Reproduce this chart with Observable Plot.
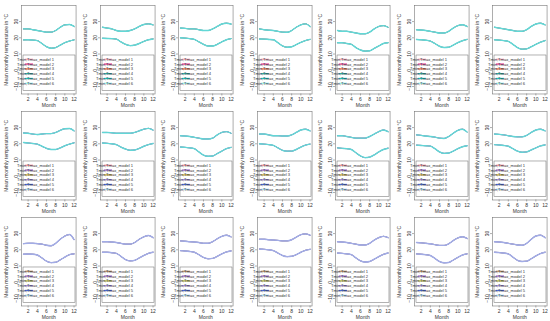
<!DOCTYPE html>
<html><head><meta charset="utf-8">
<script src="https://cdn.jsdelivr.net/npm/d3@7"></script>
<script src="https://cdn.jsdelivr.net/npm/@observablehq/plot@0.6"></script>
<style>
body{margin:0;background:#fff;}
#grid{display:grid;grid-template-columns:repeat(7,78.571px);grid-auto-rows:106px;width:550px;height:321px;overflow:hidden;}
#grid svg{overflow:visible;background:transparent;}
</style>
</head><body><div id="grid"></div>
<script>
const months = [1,2,3,4,5,6,7,8,9,10,11,12];
const models = ["Tmin,Tmax_model 1","Tmin,Tmax_model 2","Tmin,Tmax_model 3","Tmin,Tmax_model 4","Tmin,Tmax_model 5","Tmin,Tmax_model 6"];
const yTicks = [-10,0,10,20,30];
const xTicks = [2,4,6,8,10,12];

// monthly mean Tmax per panel (row-major, 3 rows x 7 columns)
const tmax = [
  [25.5,25.5,25,24.5,24,23.5,23.5,24.5,26.5,28,28.2,27],
  [26.5,26,25.5,24.5,24,24,24.5,25.5,27,28.2,28.6,28],
  [26,25.8,25.5,25.5,25,24.5,24.5,25.5,27,28.5,29,28.5],
  [25.5,25,24.7,24.5,24,23.5,23.4,24.5,26.5,28,28.6,27],
  [24.5,24,24,23.5,23,22.5,22.5,23.5,25.5,27,27.5,26.5],
  [25,24.8,24.5,24,23.5,23,23,24,26,27.5,28,27],
  [26.5,26,25.5,25,24.5,24,24,25,27,28.5,29,28],
  [26.7,26.5,26,25.7,26,26.3,26.3,27,28.3,29.3,29.4,28],
  [27,27,26.8,26.5,26.5,26.5,26.5,27,28,29,29.5,28.5],
  [25,24.8,24.5,24,23.5,23,23,23.5,25.5,27,27.5,26.5],
  [26,26,25.5,25,25,24.8,24.8,25.5,27,28.5,29,28],
  [25,25,24.5,24,23.5,23.5,23.5,24.5,26,27.5,28.5,27.5],
  [25.5,25.2,24.8,24.5,24.1,23.5,23.3,24.5,26.5,28.3,29,27.3],
  [26,25.8,25.5,25,24.5,24.3,24.3,25.2,27,28.5,29,28],
  [23.8,24,24,23.8,23.5,22.8,22.5,24,26.5,28.5,29.4,26.3],
  [25,25,24.8,24.5,24,23.5,23.5,24.5,26.5,28,28.8,27.5],
  [25.5,25.3,25,24.8,24.5,24,24,25,26.8,28.3,29,28],
  [26.5,26.5,26.2,26,25.8,25.5,25.5,26.2,27.8,29.3,29.8,29],
  [25,24.8,24.5,24,23.5,23,23,24,26,27.5,28.3,27.5],
  [24.5,24.3,24,23.7,23.2,22.7,22.7,23.7,25.7,27.3,28,27],
  [25,24.8,24.5,24,23.5,23,22.8,24,26.5,28.5,29,27.5]
];
// monthly mean Tmin per panel
const tmin = [
  [18.7,18.8,18.6,18.3,16.5,14.5,13.6,14,15.5,17,18,18.7],
  [19.7,19.6,19.5,19.2,17.5,16,15.2,15.5,16.5,17.8,18.8,19.3],
  [20,19.8,19.5,19,17.5,16,15,15,16,17.5,18.8,19.5],
  [19.3,19.2,19,18.8,17,15,14.2,14.5,15.8,17.2,18.3,19],
  [17,17,16.5,16,14,12.5,11.8,12,13.5,15,16.5,17],
  [19,18.8,18.5,18,16.5,14.8,14,14.2,15.5,17,18.2,19],
  [18.8,18.6,18.3,17.8,16,14,13,13.2,14.5,16,17.3,18.3],
  [20.8,20.5,20.2,19.8,18.5,17.2,16.5,16.5,17.5,18.8,19.8,20.6],
  [20.5,20.3,20,19.5,18,16.8,16,16.2,17.2,18.5,19.5,20.2],
  [18,17.8,17.5,17,15,13,12.3,12.5,14,15.5,17,17.8],
  [20,19.8,19.5,19,17.5,16,15.5,15.5,16.5,18,19.2,19.8],
  [17.5,17.2,17,16.5,14.5,12.5,11.5,11.8,13.2,15,16.5,17.3],
  [19.2,19,18.8,18.6,17,15,14.1,14.3,15.5,17,18.2,18.8],
  [19.5,19.3,19,18.5,17,15.5,14.8,15,16.2,17.5,18.7,19.3],
  [17.3,17.4,17.3,16.8,15,13,12.1,12.3,13.8,15.5,17,17.5],
  [18.5,18.5,18.2,17.8,16,14,13.2,13.5,15,16.5,17.8,18.5],
  [19.5,19.3,19,18.5,17,15.3,14.5,14.7,16,17.5,18.7,19.3],
  [20.5,20.3,20,19.5,18,16.5,15.8,16,17,18.5,19.7,20.3],
  [18,17.8,17.5,17,15,13.2,12.5,12.8,14.2,15.8,17.2,18],
  [17.5,17.3,17,16.5,14.7,12.8,12,12.2,13.7,15.3,16.8,17.5],
  [18.5,18.3,18,17.5,15.5,13.5,12.8,13,14.5,16.2,17.7,18.5]
];

// palettes (per row)
const legendColors = [
  ["#f6a5b5","#e6378c","#ee6840","#2aa7a3","#1fc6c6","#9eeeee"],
  ["#f0909c","#9a62c2","#c8a838","#a28cd6","#4c6cd6","#a8d6f0"],
  ["#b88c68","#9a62c2","#b4b444","#a28cd6","#4c6cd6","#a8d6f0"]
];
const lineColors = [
  ["#f6a5b5","#e6378c","#ee6840","#2aa7a3","#1fc6c6","#62d8d6"],
  ["#f0909c","#9a62c2","#c8a838","#a28cd6","#4c6cd6","#62d6d6"],
  ["#b88c68","#9a62c2","#b4b444","#a28cd6","#4c6cd6","#a2ace6"]
];

const W = 78.571, H = 106;
const grid = document.getElementById("grid");

for (let i = 0; i < 21; i++) {
  const row = Math.floor(i / 7);
  const rows = [];
  models.forEach((m, k) => {
    ["Tmax", "Tmin"].forEach(s => {
      months.forEach((mo, j) => {
        rows.push({model: m, idx: k, series: s, month: mo, temp: (s === "Tmax" ? tmax : tmin)[i][j]});
      });
    });
  });
  const plot = Plot.plot({
    width: W, height: H,
    marginLeft: 21, marginRight: 3, marginTop: 5, marginBottom: 12.5,
    style: {fontSize: "5px", fontFamily: "'Liberation Sans', Arial, sans-serif", background: "transparent", overflow: "visible", color: "#333"},
    x: {domain: [0.56, 12.44]},
    y: {domain: [-14.6, 39.9]},
    color: {domain: models, range: lineColors[row]},
    marks: [
      Plot.frame({stroke: "#777", strokeWidth: 0.6}),
      Plot.axisX({ticks: xTicks, tickSize: 2, tickPadding: 1.5, label: "Month", labelAnchor: "center", labelArrow: "none", labelOffset: 13, stroke: "#777", strokeWidth: 0.6}),
      Plot.axisY({ticks: yTicks, tickSize: 2, tickPadding: 1.5, tickRotate: -90, label: "Mean monthly temperature in °C", labelAnchor: "center", labelArrow: "none", labelOffset: 17, stroke: "#777", strokeWidth: 0.6}),
      Plot.line(rows.filter(d => d.idx < 5), {x: "month", y: "temp", z: d => d.model + d.series, stroke: "model", strokeWidth: 0.5, curve: "monotone-x"}),
      Plot.line(rows.filter(d => d.idx === 5), {x: "month", y: "temp", z: "series", stroke: "model", strokeWidth: 1.4, curve: "monotone-x"})
    ]
  });
  // legend inside plot region
  const svg = d3.select(plot);
  const g = svg.append("g").attr("font-size", "4.1px").attr("font-family", "'Liberation Sans', Arial, sans-serif");
  g.append("rect").attr("x", 23).attr("y", 55).attr("width", 52).attr("height", 35.5)
    .attr("fill", "#fff").attr("stroke", "#666").attr("stroke-width", 0.5);
  models.forEach((m, k) => {
    const yy = 59.3 + k * 4.8;
    g.append("line").attr("x1", 24.8).attr("x2", 33).attr("y1", yy).attr("y2", yy)
      .attr("stroke", legendColors[row][k]).attr("stroke-width", 1.3);
    g.append("text").attr("x", 35.5).attr("y", yy).attr("dy", "0.35em").attr("fill", "#333").text(m);
  });
  grid.appendChild(plot);
}
</script>
</body></html>
